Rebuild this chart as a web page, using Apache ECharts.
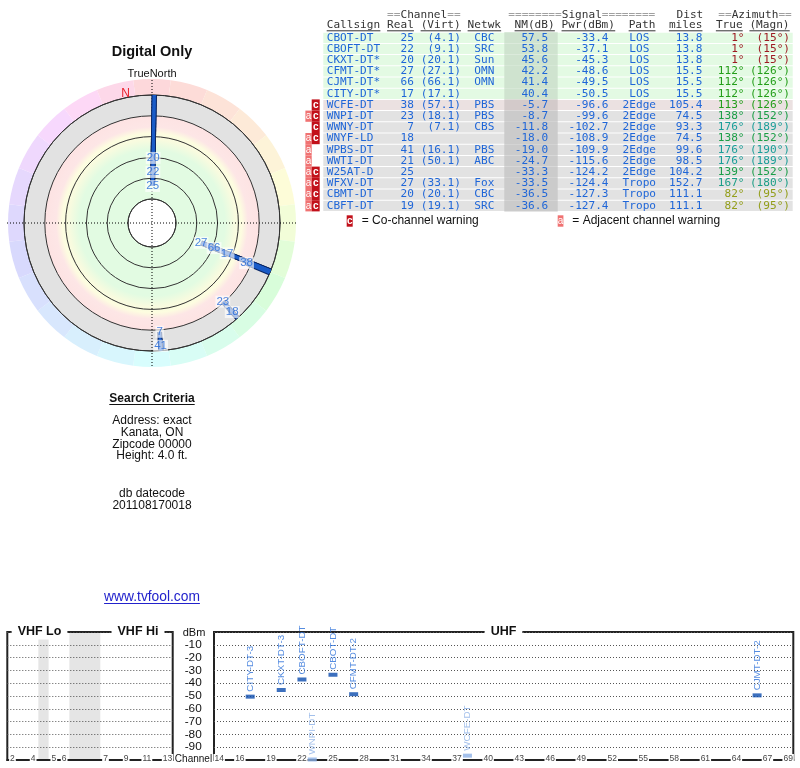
<!DOCTYPE html>
<html><head><meta charset="utf-8">
<script src="https://cdn.jsdelivr.net/npm/echarts@6/dist/echarts.min.js"></script>
<style>html,body{margin:0;padding:0;background:#fff}#c{width:800px;height:768px}</style>
</head><body><div id="c"></div>
<script>
// ---------------- DATA ----------------
const callsigns = ['CBOT-DT','CBOFT-DT','CKXT-DT*','CFMT-DT*','CJMT-DT*','CITY-DT*','WCFE-DT','WNPI-DT','WWNY-DT','WNYF-LD','WPBS-DT','WWTI-DT','W25AT-D','WFXV-DT','CBMT-DT','CBFT-DT'];
const realChannels = [25,22,20,27,66,17,38,23,7,18,41,21,25,27,20,19];
const virtualChannels = ['4.1','9.1','20.1','27.1','66.1','17.1','57.1','18.1','7.1','','16.1','50.1','','33.1','20.1','19.1'];
const networks = ['CBC','SRC','Sun','OMN','OMN','','PBS','PBS','CBS','','PBS','ABC','','Fox','CBC','SRC'];
const noiseMarginDb = [57.5,53.8,45.6,42.2,41.4,40.4,-5.7,-8.7,-11.8,-18.0,-19.0,-24.7,-33.3,-33.5,-36.5,-36.6];
const powerDbm = [-33.4,-37.1,-45.3,-48.6,-49.5,-50.5,-96.6,-99.6,-102.7,-108.9,-109.9,-115.6,-124.2,-124.4,-127.3,-127.4];
const paths = ['LOS','LOS','LOS','LOS','LOS','LOS','2Edge','2Edge','2Edge','2Edge','2Edge','2Edge','2Edge','Tropo','Tropo','Tropo'];
const distMiles = [13.8,13.8,13.8,15.5,15.5,15.5,105.4,74.5,93.3,74.5,99.6,98.5,104.2,152.7,111.1,111.1];
const azimuthTrue = [1,1,1,112,112,112,113,138,176,138,176,176,139,167,82,82];
const azimuthMagn = [15,15,15,126,126,126,126,152,189,152,190,189,152,180,95,95];
const warnings = ['','','','','','','c','ac','c','ac','a','a','ac','ac','ac','ac'];
const spectrumNames = ['CBOT-DT','CBOFT-DT','CKXT-DT-3','CFMT-DT-2','CJMT-DT-2','CITY-DT-3','WCFE-DT','WNPI-DT','WWNY-DT','WNYF-LD','WPBS-DT','WWTI-DT','W25AT-D','WFXV-DT','CBMT-DT','CBFT-DT'];
const vhfTickChannels = [2,4,5,6,7,9,11,13];
const uhfTickChannels = [14,16,19,22,25,28,31,34,37,40,43,46,49,52,55,58,61,64,67,69];
const vhfChannelSlots = {2:0,3:1,4:2,5:4,6:5,7:9,8:10,9:11,10:12,11:13,12:14,13:15};
const vhfGapSlots = [[3,4],[6,9]];
const criteriaLines = ['Address: exact','Kanata, ON','Zipcode 00000','Height: 4.0 ft.'];
const datecodeLines = ['db datecode','201108170018'];

// ---------------- LAYOUT / STYLE ----------------
const C = [152, 223], R_IN = 24, R_OUT = 128, R_RING = 144;
const NM_MIN = -30, NM_MAX = 70, LABEL_GAP = 13.5;
const SANS = '"Liberation Sans", Arial, sans-serif';
const MONO = '"DejaVu Sans Mono", monospace';
const BLUE = '#1f66d8';
const mctx = document.createElement('canvas').getContext('2d');
function textW(t, font){ mctx.font = font; return mctx.measureText(t).width; }

function hueOf(az){
  const ks=[0,40,82,112,138,176,225,270,315,360];
  const hs=[355,385,425,475,500,538,575,610,650,715];
  for(let i=0;i<ks.length-1;i++){
    if(az>=ks[i] && az<=ks[i+1]){ const t=(az-ks[i])/(ks[i+1]-ks[i]); return (hs[i]+t*(hs[i+1]-hs[i]))%360; }
  }
  return 0;
}
const rad = d => d*Math.PI/180;

const G = [];
// ---- polar decorations ----
for(let k=0;k<24;k++){
  const a0=k*15-7.5, a1=a0+15;
  G.push({type:'sector', z:-10, silent:true, shape:{cx:C[0],cy:C[1],r0:R_OUT,r:R_RING,startAngle:rad(a0-90),endAngle:rad(a1-90),clockwise:true},
    style:{fill:`hsl(${hueOf(k*15)},92%,92%)`}});
}
G.push({type:'circle', z:-9, silent:true, shape:{cx:C[0],cy:C[1],r:R_OUT},
  style:{fill:new echarts.graphic.RadialGradient(0.5,0.5,0.5,[
    {offset:0,color:'#e2fbe2'},{offset:0.57,color:'#e2fbe2'},{offset:0.65,color:'#f8fbdf'},
    {offset:0.70,color:'#fdfde0'},{offset:0.75,color:'#fde6e6'},{offset:0.834,color:'#fde3e3'},
    {offset:0.838,color:'#e2e2e2'},{offset:1,color:'#e2e2e2'}])}});
G.push({type:'circle', z:-8, silent:true, shape:{cx:C[0],cy:C[1],r:R_IN}, style:{fill:'#fff'}});
G.push({type:'line', z:1, silent:true, shape:{x1:C[0]-R_RING-1,y1:C[1],x2:C[0]+R_RING+1,y2:C[1]}, style:{stroke:'#000',lineWidth:1,lineDash:[1,2]}});
G.push({type:'line', z:1, silent:true, shape:{x1:C[0],y1:80,x2:C[0],y2:C[1]+R_RING+1}, style:{stroke:'#000',lineWidth:1,lineDash:[1,2]}});
function txt(x,y,text,font,fill,align,extra){
  G.push(Object.assign({type:'text', z:5, silent:true, x:x, y:y, style:{text:text, font:font, fill:fill||'#111', align:align||'left', verticalAlign:'middle', textAlign:align||'left', textVerticalAlign:'middle'}}, extra||{}));
}
function uline(x1,x2,y,color){
  G.push({type:'line', z:5, silent:true, shape:{x1:x1,y1:y,x2:x2,y2:y}, style:{stroke:color||'#111',lineWidth:1}});
}
txt(152,51.7,'Digital Only','bold 14.5px '+SANS,'#111','center');
txt(152,74.3,'TrueNorth','11px '+SANS,'#111','center');
txt(125.7,93.3,'N','12px '+SANS,'#e8202a','center');

// ---- search criteria ----
const scFont = 'bold 12px '+SANS;
txt(152,398.3,'Search Criteria',scFont,'#111','center');
const scW = textW('Search Criteria', scFont); uline(152-scW/2,152+scW/2,404.5);
criteriaLines.forEach((t,i)=>txt(152,420.7+i*11.8,t,'12px '+SANS,'#111','center'));
datecodeLines.forEach((t,i)=>txt(152,494+i*12,t,'12px '+SANS,'#111','center'));
const lkFont='13.8px '+SANS;
txt(152,597.3,'www.tvfool.com',lkFont,'#2222cc','center');
const lkW=textW('www.tvfool.com',lkFont); uline(152-lkW/2,152+lkW/2,603.5,'#2222cc');

// ---- table ----
const TF = '11.1px '+MONO, CW = 6.71, TL = 326.7;
const rowTop0 = 32.2, rowH = 11.2;
const hdrDark = '#333', hdrEq = '#a0a0a0';
function richHdr(x,y,eqL,word,eqR){
  G.push({type:'text', z:5, silent:true, x:x, y:y, style:{text:`{e|${eqL}}{w|${word}}{e|${eqR}}`, font:TF, verticalAlign:'middle', textVerticalAlign:'middle',
    rich:{e:{fill:hdrEq,font:TF}, w:{fill:hdrDark,font:TF}}}});
}
richHdr(TL+9*CW,14.7,'==','Channel','==');
richHdr(508.3,14.7,'========','Signal','========');
txt(703.3,14.7,'Dist',TF,hdrDark,'right');
richHdr(718.3,14.7,'==','Azimuth','==');
const hdr2 = [['Callsign',0],['Real',9],['(Virt)',14],['Netwk',21],['NM(dB)',28],['Pwr(dBm)',35],['Path',45],['miles',51],['True',58],['(Magn)',63]];
hdr2.forEach(([t,col])=>{ const x=TL+col*CW; txt(x,25,t,TF,hdrDark,'left'); uline(x,x+t.length*CW,30.8,hdrDark); });

callsigns.forEach((cs,i)=>{
  const top = rowTop0 + i*rowH, cy = top + rowH/2;
  const nm = noiseMarginDb[i];
  const bg = nm>=10 ? '#e3fae3' : (nm>=-7 ? '#ebe1e1' : '#e2e2e2');
  const bgNm = nm>=10 ? '#cfe3cf' : (nm>=-7 ? '#d3caca' : '#cbcbcb');
  G.push({type:'rect', z:1, silent:true, shape:{x:323.3,y:top+0.5,width:469.4,height:rowH-1}, style:{fill:bg}});
  G.push({type:'rect', z:2, silent:true, shape:{x:504.3,y:top,width:53.4,height:rowH}, style:{fill:bgNm}});
  txt(TL,cy,cs,TF,BLUE,'left');
  txt(TL+13*CW,cy,String(realChannels[i]),TF,BLUE,'right');
  if(virtualChannels[i]) txt(TL+20*CW,cy,'('+virtualChannels[i]+')',TF,BLUE,'right');
  if(networks[i]) txt(TL+22*CW,cy,networks[i],TF,BLUE,'left');
  txt(TL+33*CW,cy,nm.toFixed(1),TF,BLUE,'right');
  txt(TL+42*CW,cy,powerDbm[i].toFixed(1),TF,BLUE,'right');
  txt(639.3,cy,paths[i],TF,BLUE,'center');
  txt(TL+56*CW,cy,distMiles[i].toFixed(1),TF,BLUE,'right');
  const azc = `hsl(${hueOf(azimuthTrue[i])},72%,36%)`;
  txt(744.5,cy,azimuthTrue[i]+'°',TF,azc,'right');
  txt(790,cy,'('+azimuthMagn[i]+'°)',TF,azc,'right');
  const w = warnings[i];
  if(w.indexOf('a')>=0){
    G.push({type:'rect', z:2, silent:true, shape:{x:305.4,y:top,width:6.3,height:rowH}, style:{fill:'#f07272'}});
    txt(308.6,cy,'a','10px '+SANS,'#fff','center');
  }
  if(w.indexOf('c')>=0){
    G.push({type:'rect', z:2, silent:true, shape:{x:311.7,y:top,width:8,height:rowH}, style:{fill:'#c2101a'}});
    txt(315.7,cy,'c','bold 10px '+SANS,'#fff','center');
  }
});
// legend
G.push({type:'rect', z:2, silent:true, shape:{x:346.7,y:215.3,width:6,height:11.4}, style:{fill:'#c2101a'}});
txt(349.7,221,'c','bold 10px '+SANS,'#fff','center');
txt(361.7,221,'= Co-channel warning','12px '+SANS,'#111','left');
G.push({type:'rect', z:2, silent:true, shape:{x:557.7,y:215.3,width:5.7,height:11.4}, style:{fill:'#f07272'}});
txt(560.5,221,'a','10px '+SANS,'#fff','center');
txt(572.3,221,'= Adjacent channel warning','12px '+SANS,'#111','left');

// ---- spectrum titles ----
function title(x,t){
  G.push({type:'text', z:50, silent:true, x:x, y:632, style:{text:t, font:'bold 12.5px '+SANS, fill:'#111', align:'center', verticalAlign:'middle', textAlign:'center', textVerticalAlign:'middle', backgroundColor:'#fff', padding:[1,6]}});
}
title(39.5,'VHF Lo'); title(138,'VHF Hi'); title(503.5,'UHF');
txt(194,632.5,'dBm','11px '+SANS,'#111','center');
txt(193.5,759,'Channel','10px '+SANS,'#111','center');

// ---------------- SERIES ----------------
const series = [];
const idxAll = callsigns.map((_,i)=>i);
const visible = idxAll.filter(i=>noiseMarginDb[i]>=NM_MIN);
visible.forEach(i=>{
  const d = [[noiseMarginDb[i], azimuthTrue[i]],[NM_MIN, azimuthTrue[i]]];
  series.push({type:'line', coordinateSystem:'polar', polarIndex:0, data:d, symbol:'none', silent:true, z:3, animation:false, lineStyle:{color:'#0a2766', width:5, cap:'butt'}});
  series.push({type:'line', coordinateSystem:'polar', polarIndex:0, data:d, symbol:'none', silent:true, z:4, animation:false, lineStyle:{color:'#1a5cc8', width:2.8, cap:'butt'}});
});
// label stacking along each bearing
const sortedVis = visible.slice().sort((a,b)=>azimuthTrue[a]-azimuthTrue[b]);
const groups = [];
sortedVis.forEach(i=>{
  const g = groups[groups.length-1];
  if(g && Math.abs(azimuthTrue[i]-azimuthTrue[g[g.length-1]])<=2) g.push(i); else groups.push([i]);
});
const labelData = [];
groups.forEach(g=>{
  g.sort((a,b)=>noiseMarginDb[b]-noiseMarginDb[a]);
  let prev = null;
  g.forEach(i=>{
    let pos = noiseMarginDb[i];
    if(prev!==null) pos = Math.min(pos, prev-LABEL_GAP);
    prev = pos;
    if(pos>=NM_MIN) labelData.push([pos, azimuthTrue[i], realChannels[i]]);
  });
});
series.push({type:'scatter', coordinateSystem:'polar', polarIndex:0, data:labelData, symbolSize:1, z:6, silent:true,
  itemStyle:{color:'rgba(0,0,0,0)'},
  label:{show:true, position:'inside', formatter:p=>String(p.value[2]), color:BLUE, fontSize:11.5, fontFamily:SANS,
    backgroundColor:'rgba(255,255,255,0.8)', padding:[0,1,0,1]}});

// spectrum
function specItem(i, x){
  const weak = noiseMarginDb[i] < 0;
  return {value:[x, powerDbm[i], spectrumNames[i]], itemStyle:{color: weak?'#8cb0e6':'#0d4cae'}, label:{color: weak?'#8cb0e6':'#2b6fd8'}};
}
const specLabel = {show:true, position:'top', distance:3, rotate:90, align:'left', verticalAlign:'middle', fontSize:9.8, fontFamily:SANS, formatter:p=>p.value[2]};
const vhfData = idxAll.filter(i=>realChannels[i]<=13 && powerDbm[i]>=-100).map(i=>specItem(i, vhfChannelSlots[realChannels[i]]+0.5));
const uhfData = idxAll.filter(i=>realChannels[i]>=14 && powerDbm[i]>=-100).map(i=>specItem(i, realChannels[i]));
series.push({type:'scatter', xAxisIndex:0, yAxisIndex:0, data:vhfData, symbol:'rect', symbolSize:[9,4], silent:true, label:specLabel,
  markArea:{silent:true, itemStyle:{color:'rgba(0,0,0,0.1)'}, data: vhfGapSlots.map(g=>[{xAxis:g[0]},{xAxis:g[1]}])}});
series.push({type:'scatter', xAxisIndex:1, yAxisIndex:1, data:uhfData, symbol:'rect', symbolSize:[9,4], silent:true, label:specLabel, z:5});

const slotToCh = {}; Object.keys(vhfChannelSlots).forEach(c=>{ slotToCh[vhfChannelSlots[c]+0.5]=c; });
const xLabel = {fontSize:8.5, color:'#444', fontFamily:SANS, backgroundColor:'#fff', padding:[0,1,0,1], margin:-6};
const yAxisBase = {type:'value', min:-100, max:0, interval:10, axisLine:{show:false}, axisTick:{show:false},
  splitLine:{show:true, lineStyle:{color:'#555', width:1, type:[1,2]}}};

const option = {
  animation:false,
  backgroundColor:'#fff',
  textStyle:{fontFamily:SANS},
  polar:{center:C, radius:[R_IN, R_OUT]},
  angleAxis:{type:'value', min:0, max:360, startAngle:90, clockwise:true,
    axisLine:{show:true, lineStyle:{color:'#333', width:1}}, axisTick:{show:false}, axisLabel:{show:false}, splitLine:{show:false}},
  radiusAxis:{type:'value', min:NM_MIN, max:NM_MAX, interval:10, inverse:true,
    axisLine:{show:false}, axisTick:{show:false}, axisLabel:{show:false},
    splitLine:{show:true, lineStyle:{color:['#333','rgba(0,0,0,0)'], width:1}}},
  grid:[
    {left:7.3, width:165.4, top:632, height:128, show:true, borderColor:'#222', borderWidth:2},
    {left:214, width:579.3, top:632, height:128, show:true, borderColor:'#222', borderWidth:2}
  ],
  xAxis:[
    {gridIndex:0, type:'value', min:0, max:16, axisLine:{show:true, onZero:false, lineStyle:{color:'#222', width:2}}, axisTick:{show:false}, splitLine:{show:false},
      axisLabel:Object.assign({customValues: vhfTickChannels.map(c=>vhfChannelSlots[c]+0.5), formatter:v=>slotToCh[v]||''}, xLabel)},
    {gridIndex:1, type:'value', min:13.5, max:69.5, axisLine:{show:true, onZero:false, lineStyle:{color:'#222', width:2}}, axisTick:{show:false}, splitLine:{show:false},
      axisLabel:Object.assign({customValues: uhfTickChannels, formatter:v=>String(v)}, xLabel)}
  ],
  yAxis:[
    Object.assign({gridIndex:0, axisLabel:{show:false}}, yAxisBase),
    Object.assign({gridIndex:1, axisLabel:{show:true, margin:12.3, fontSize:11.8, color:'#111', fontFamily:SANS, formatter:v=>(v===0||v===-100)?'':String(v)}}, yAxisBase)
  ],
  series:series,
  graphic:{elements:G}
};
const chart = echarts.init(document.getElementById('c'), null, {renderer:'canvas', width:800, height:768});
chart.setOption(option);
</script></body></html>
